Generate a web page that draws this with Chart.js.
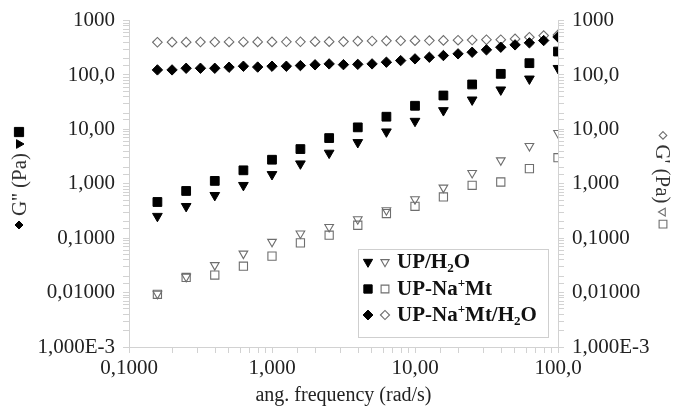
<!DOCTYPE html>
<html>
<head>
<meta charset="utf-8">
<script src="https://cdn.jsdelivr.net/npm/chart.js@4.4.1/dist/chart.umd.min.js"></script>
<style>
  html, body { margin: 0; padding: 0; background: #fff; }
</style>
</head>
<body>
<canvas id="rheology" width="678" height="412"></canvas>
<script>
// angular frequency (rad/s): 10 points per decade for the diamond runs, 5 per decade for the rest
const freqFine = [0.158, 0.200, 0.251, 0.316, 0.398, 0.501, 0.631, 0.794, 1.00, 1.26, 1.58, 2.00, 2.51, 3.16, 3.98,
                  5.01, 6.31, 7.94, 10.0, 12.6, 15.8, 20.0, 25.1, 31.6, 39.8, 50.1, 63.1, 79.4, 100];
const freqCoarse = [0.158, 0.251, 0.398, 0.631, 1.00, 1.58, 2.51, 3.98, 6.31, 10.0, 15.8, 25.1, 39.8, 63.1, 100];

// UP/H2O  (G'' filled, G' open)
const upWaterLoss = [0.254, 0.386, 0.615, 0.94, 1.49, 2.34, 3.68, 5.77, 9.06, 14.2, 22.3, 35.0, 53.5, 85.0, 133];
const upWaterStorage = [0.0095, 0.0195, 0.032, 0.052, 0.0857, 0.122, 0.161, 0.223, 0.327, 0.52, 0.85, 1.58, 2.70, 4.94, 8.57];
// UP-Na+Mt
const upClayLoss = [0.463, 0.738, 1.13, 1.77, 2.77, 4.35, 6.93, 10.9, 17.1, 27.2, 42.0, 67.0, 105, 165, 270];
const upClayStorage = [0.0093, 0.019, 0.021, 0.0306, 0.0468, 0.082, 0.1135, 0.173, 0.284, 0.386, 0.573, 0.938, 1.08, 1.90, 3.02];
// UP-Na+Mt/H2O
const upClayWaterLoss = [124, 124, 133, 133, 133, 139, 145, 140, 145, 145, 149, 154, 160, 155, 157,
                         160, 172, 184, 198, 212, 228, 245, 262, 290, 324, 358, 390, 430, 500];
const upClayWaterStorage = [400, 402, 402, 404, 404, 405, 405, 406, 406, 408, 408, 410, 410, 412, 420,
                            422, 424, 426, 428, 430, 432, 436, 440, 445, 445, 461, 494, 531, 545];

// decade labels, lowest decade first
const yTickLabels = ['1,000E-3', '0,01000', '0,1000', '1,000', '10,00', '100,0', '1000'];
const xTickLabels = ['0,1000', '1,000', '10,00', '100,0'];

const SERIF = "'Liberation Serif', 'Times New Roman', serif";
const INK = '#000000';
const HOLLOW = '#6e6e6e';

const marks = {
  triFilled:  { pointStyle: 'triangle', rotation: 180, radius: 5.6, fill: INK, stroke: INK, borderWidth: 1 },
  triOpen:    { pointStyle: 'triangle', rotation: 180, radius: 5.0, fill: 'rgba(255,255,255,0)', stroke: HOLLOW, borderWidth: 1.1 },
  sqFilled:   { pointStyle: 'rect', rotation: 0, radius: 6.2, fill: INK, stroke: INK, borderWidth: 1 },
  sqOpen:     { pointStyle: 'rect', rotation: 0, radius: 5.8, fill: 'rgba(255,255,255,0)', stroke: HOLLOW, borderWidth: 1.1 },
  diaFilled:  { pointStyle: 'rectRot', rotation: 0, radius: 5.2, fill: INK, stroke: INK, borderWidth: 1 },
  diaOpen:    { pointStyle: 'rectRot', rotation: 0, radius: 4.8, fill: 'rgba(255,255,255,0)', stroke: HOLLOW, borderWidth: 1.1 }
};

function series(label, xs, ys, mark, axis) {
  return {
    label: label,
    data: xs.map((x, i) => ({ x: x, y: ys[i] })),
    yAxisID: axis,
    showLine: false,
    pointStyle: mark.pointStyle,
    rotation: mark.rotation,
    pointRadius: mark.radius,
    pointHoverRadius: mark.radius,
    backgroundColor: mark.fill,
    borderColor: mark.stroke,
    borderWidth: mark.borderWidth
  };
}

// only whole decades get a label, the rest keep a bare minor tick
function decadeLabels(labels, firstExp) {
  return function (value) {
    const e = Math.log10(value);
    const r = Math.round(e);
    if (Math.abs(e - r) > 1e-6) return '';
    const s = labels[r - firstExp];
    return s === undefined ? '' : s;
  };
}

function setMark(ctx, mark) {
  ctx.fillStyle = mark.fill;
  ctx.strokeStyle = mark.stroke;
  ctx.lineWidth = mark.borderWidth;
}

function drawMark(ctx, mark, x, y, radius, rotation) {
  setMark(ctx, mark);
  Chart.helpers.drawPoint(ctx, {
    pointStyle: mark.pointStyle,
    rotation: rotation,
    radius: radius,
    borderWidth: mark.borderWidth
  }, x, y);
}

// rich text: [text, 'sub' | 'sup' | undefined]
function drawRich(ctx, parts, x, y, size) {
  let cx = x;
  parts.forEach(([t, kind]) => {
    const small = kind ? Math.round(size * 0.62) : size;
    ctx.font = 'bold ' + small + 'px ' + SERIF;
    let dy = 0;
    if (kind === 'sub') dy = size * 0.28;
    if (kind === 'sup') dy = -size * 0.3;
    ctx.fillText(t, cx, y + dy);
    cx += ctx.measureText(t).width;
  });
}

const legendRows = [
  { filled: marks.triFilled, open: marks.triOpen, parts: [['UP/H'], ['2', 'sub'], ['O']] },
  { filled: marks.sqFilled, open: marks.sqOpen, parts: [['UP-Na'], ['+', 'sup'], ['Mt']] },
  { filled: marks.diaFilled, open: marks.diaOpen, parts: [['UP-Na'], ['+', 'sup'], ['Mt/H'], ['2', 'sub'], ['O']] }
];

const boxLegend = {
  id: 'boxLegend',
  afterDraw(chart) {
    const ctx = chart.ctx;
    ctx.save();
    ctx.fillStyle = '#ffffff';
    ctx.fillRect(358, 249, 190, 89);
    ctx.strokeStyle = '#cfcfcf';
    ctx.lineWidth = 1;
    ctx.strokeRect(358.5, 249.5, 190, 88);
    const rowY = [262, 289, 315];
    legendRows.forEach((row, i) => {
      const y = rowY[i];
      const rot = row.filled.rotation;
      drawMark(ctx, row.filled, 368, y, row.filled.radius * 0.95, rot);
      drawMark(ctx, row.open, 385, y, row.open.radius * 0.95, rot);
      ctx.fillStyle = '#111111';
      ctx.textBaseline = 'middle';
      ctx.textAlign = 'left';
      drawRich(ctx, row.parts, 397, y + 1, 21);
    });
    ctx.restore();
  }
};

// rotated axis titles with the marker keys around the text
function drawAxisTitle(ctx, cx, cy, angle, items) {
  ctx.save();
  ctx.translate(cx, cy);
  ctx.rotate(angle);
  ctx.font = '21px ' + SERIF;
  const widths = items.map(it => it.text !== undefined ? ctx.measureText(it.text).width : it.size);
  const gaps = items.map(it => it.gap || 0);
  const total = widths.reduce((a, b) => a + b, 0) + gaps.reduce((a, b) => a + b, 0);
  let x = -total / 2;
  items.forEach((it, i) => {
    x += gaps[i];
    if (it.text !== undefined) {
      ctx.fillStyle = '#333333';
      ctx.textBaseline = 'middle';
      ctx.textAlign = 'left';
      ctx.font = '21px ' + SERIF;
      ctx.fillText(it.text, x, 1);
    } else {
      drawMark(ctx, it.mark, x + it.size / 2, 0, it.radius, it.mark.rotation);
    }
    x += widths[i];
  });
  ctx.restore();
}

const axisTitles = {
  id: 'axisTitles',
  afterDraw(chart) {
    const ctx = chart.ctx;
    drawAxisTitle(ctx, 19, 178, -Math.PI / 2, [
      { mark: marks.diaFilled, size: 8, radius: 4 },
      { text: "G'' (Pa)", gap: 5 },
      { mark: marks.triFilled, size: 10, radius: 5, gap: 4 },
      { mark: marks.sqFilled, size: 10, radius: 6.5, gap: 2 }
    ]);
    drawAxisTitle(ctx, 663, 180, Math.PI / 2, [
      { mark: marks.diaOpen, size: 8, radius: 3.8 },
      { text: "G' (Pa)", gap: 5 },
      { mark: marks.triOpen, size: 9, radius: 4.5, gap: 4 },
      { mark: marks.sqOpen, size: 9, radius: 5.5, gap: 3 }
    ]);
  }
};

const tickFont = { family: SERIF, size: 21 };
const axisGrey = '#d2d2d2';

function logAxis(position, labels, firstExp, min, max, fit) {
  return {
    type: 'logarithmic',
    position: position,
    min: min,
    max: max,
    border: { display: true, color: axisGrey, width: 1 },
    grid: {
      drawOnChartArea: false,
      drawTicks: true,
      tickLength: 6,
      tickColor: axisGrey
    },
    ticks: {
      autoSkip: false,
      maxRotation: 0,
      padding: position === 'bottom' ? 3 : 8,
      color: '#222222',
      font: tickFont,
      callback: decadeLabels(labels, firstExp)
    },
    afterFit: fit
  };
}

const xAxis = logAxis('bottom', xTickLabels, -1, 0.1, 100, s => { s.height = 65; });
xAxis.title = {
  display: true,
  text: 'ang. frequency (rad/s)',
  color: '#222222',
  font: { family: SERIF, size: 20 },
  padding: { top: 0, bottom: 4 }
};

new Chart(document.getElementById('rheology'), {
  type: 'scatter',
  data: {
    datasets: [
      series("UP-Na+Mt/H2O G''", freqFine, upClayWaterLoss, marks.diaFilled, 'y'),
      series("UP-Na+Mt/H2O G'", freqFine, upClayWaterStorage, marks.diaOpen, 'y2'),
      series("UP-Na+Mt G''", freqCoarse, upClayLoss, marks.sqFilled, 'y'),
      series("UP/H2O G''", freqCoarse, upWaterLoss, marks.triFilled, 'y'),
      series("UP/H2O G'", freqCoarse, upWaterStorage, marks.triOpen, 'y2'),
      series("UP-Na+Mt G'", freqCoarse, upClayStorage, marks.sqOpen, 'y2')
    ]
  },
  options: {
    responsive: false,
    animation: false,
    layout: { padding: { top: 20, left: 0, right: 0, bottom: 0 } },
    plugins: {
      legend: { display: false },
      tooltip: { enabled: false }
    },
    scales: {
      x: xAxis,
      y: logAxis('left', yTickLabels, -3, 0.001, 1000, s => { s.width = 129; }),
      y2: logAxis('right', yTickLabels, -3, 0.001, 1000, s => { s.width = 120; })
    }
  },
  plugins: [boxLegend, axisTitles]
});
</script>
</body>
</html>
